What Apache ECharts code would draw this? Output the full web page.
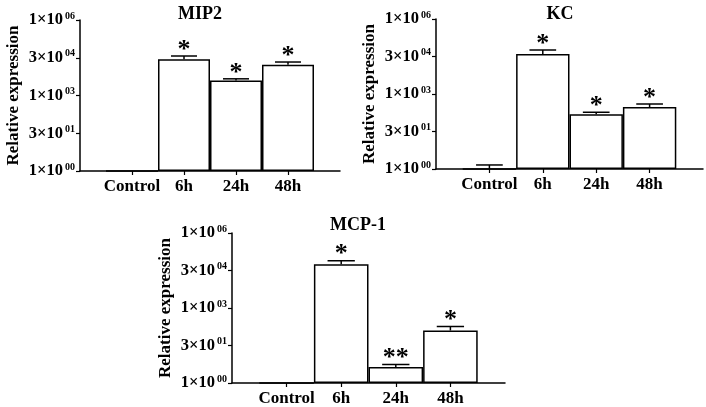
<!DOCTYPE html>
<html><head><meta charset="utf-8">
<script src="https://cdn.jsdelivr.net/npm/echarts@6/dist/echarts.min.js"></script>
<style>html,body{margin:0;padding:0;background:#fff}#c{width:706px;height:407px}</style>
</head><body><div id="c"></div>
<script>
// ---- data (relative expression, fold change; mean and upper SEM) ----
const categories = ['Control', '6h', '24h', '48h'];
const yTickMantissa = ['1', '3', '1', '3', '1'];
const yTickExponent = ['00', '01', '03', '04', '06'];
const titles = ['MIP2', 'KC', 'MCP-1'];
const mip2Mean = [1, 27500, 3900, 16600];
const mip2Sem = [0, 9600, 700, 4800];
const mip2Stars = ['', '*', '*', '*'];
const kcMean = [1, 39800, 155, 300];
const kcSem = [0.45, 17700, 31, 98];
const kcStars = ['', '*', '*', '*'];
const mcpMean = [1, 56200, 4.4, 126];
const mcpSem = [0, 21400, 1.1, 56];
const mcpStars = ['', '*', '**', '*'];

const FONT = '"Liberation Serif", "Times New Roman", serif';
const panels = [
  {title: titles[0], mean: mip2Mean, sem: mip2Sem, stars: mip2Stars,
   grid: {left: 80, top: 20, width: 260, height: 151}, titleX: 195, titleY: 0},
  {title: titles[1], mean: kcMean, sem: kcSem, stars: kcStars,
   grid: {left: 436, top: 19, width: 267, height: 150}, titleX: 555, titleY: 0},
  {title: titles[2], mean: mcpMean, sem: mcpSem, stars: mcpStars,
   grid: {left: 232, top: 233, width: 273, height: 151}, titleX: 353, titleY: 211}
];

const xCats = [''].concat(categories, ['']);
const option = {
  animation: false,
  backgroundColor: '#fff',
  title: [], grid: [], xAxis: [], yAxis: [], series: []
};

panels.forEach((p, i) => {
  option.title.push({
    text: p.title, left: p.titleX, top: p.titleY, textAlign: 'center',
    textStyle: {fontFamily: FONT, fontWeight: 'bold', fontSize: 18, color: '#000'}
  });
  option.grid.push(Object.assign({containLabel: false}, p.grid));
  option.xAxis.push({
    type: 'category', gridIndex: i, data: xCats, boundaryGap: false,
    axisLine: {lineStyle: {color: '#000', width: 1.5}},
    axisTick: {show: true, length: 4, lineStyle: {color: '#000', width: 1.2},
      interval: (idx) => idx >= 1 && idx <= categories.length},
    axisLabel: {interval: 0, color: '#000', fontFamily: FONT, fontWeight: 'bold', fontSize: 17, margin: 7},
    splitLine: {show: false}
  });
  option.yAxis.push({
    type: 'value', gridIndex: i, min: 0, max: 6, interval: 1.5,
    name: 'Relative expression', nameLocation: 'middle', nameGap: 58,
    nameTextStyle: {fontFamily: FONT, fontWeight: 'bold', fontSize: 17, color: '#000'},
    axisLine: {show: true, lineStyle: {color: '#000', width: 1.5}},
    axisTick: {show: true, length: 4, lineStyle: {color: '#000', width: 1.2}},
    splitLine: {show: false},
    axisLabel: {
      margin: 5, color: '#000',
      formatter: (v) => {
        const k = Math.round(v / 1.5);
        return '{b|' + yTickMantissa[k] + '\u00d710}{s|' + yTickExponent[k] + '}';
      },
      rich: {
        b: {fontFamily: FONT, fontWeight: 'bold', fontSize: 16.5, color: '#000', lineHeight: 18},
        s: {fontFamily: FONT, fontWeight: 'bold', fontSize: 10, color: '#000', verticalAlign: 'top', lineHeight: 18, padding: [0, 0, 8, 2]}
      }
    }
  });
  const barData = ['-'].concat(p.mean.map(v => Math.log10(v)), ['-']);
  option.series.push({
    type: 'bar', xAxisIndex: i, yAxisIndex: i, data: barData,
    barWidth: '100%', barGap: '-100%',
    itemStyle: {color: '#fff', borderColor: '#000', borderWidth: 1.5},
    silent: true
  });
  const errData = p.mean.map((m, j) => [j + 1, Math.log10(m), Math.log10(m + p.sem[j]), j]);
  option.series.push({
    type: 'custom', xAxisIndex: i, yAxisIndex: i, data: errData, silent: true, z: 5,
    renderItem: (params, api) => {
      const x = api.value(0), lo = api.value(1), hi = api.value(2), j = api.value(3);
      const pLo = api.coord([x, lo]);
      const pHi = api.coord([x, hi]);
      const bw = api.size([1, 0])[0];
      const cap = bw * 0.25;
      const children = [];
      if (hi > lo + 1e-9) {
        children.push({type: 'line', shape: {x1: pLo[0], y1: pLo[1], x2: pHi[0], y2: pHi[1]},
          style: {stroke: '#000', lineWidth: 1.5}});
        children.push({type: 'line', shape: {x1: pHi[0] - cap, y1: pHi[1], x2: pHi[0] + cap, y2: pHi[1]},
          style: {stroke: '#000', lineWidth: 1.5}});
      }
      const s = p.stars[j];
      if (s) {
        children.push({type: 'text', style: {text: s, x: pHi[0], y: pHi[1] + 7,
          align: 'center', verticalAlign: 'bottom',
          fontFamily: FONT, fontWeight: 'bold', fontSize: 26, fill: '#000'}});
      }
      return {type: 'group', children};
    }
  });
});

const chart = echarts.init(document.getElementById('c'), null, {renderer: 'canvas'});
chart.setOption(option);
</script>
</body></html>
